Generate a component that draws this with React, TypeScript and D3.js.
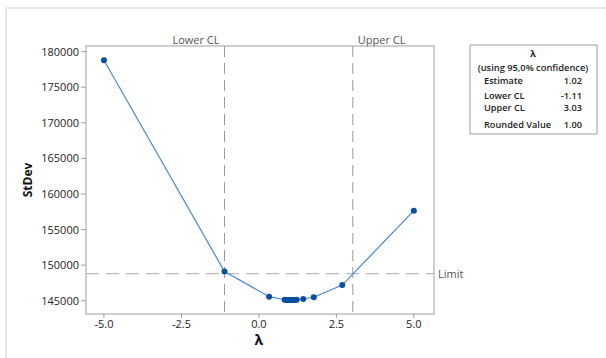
import React from "react";
import * as d3 from "d3";

const lambdas = [-5, -1.11, 0.33, 0.83, 0.88, 0.93, 0.98, 1.02, 1.07, 1.12, 1.17, 1.22, 1.43, 1.77, 2.69, 5];
const stdevs = [178800, 149100, 145560, 145130, 145115, 145105, 145100, 145100, 145100, 145105, 145115, 145130, 145240, 145480, 147200, 157650];
const yTicks = [145000, 150000, 155000, 160000, 165000, 170000, 175000, 180000];
const xTicks = [-5, -2.5, 0, 2.5, 5];
const lowerCL = -1.11;
const upperCL = 3.03;
const limitValue = 148800;
const tableRows = [
  { label: "Estimate", value: "1.02" },
  { label: "Lower CL", value: "-1.11" },
  { label: "Upper CL", value: "3.03" },
  { label: "Rounded Value", value: "1.00" },
];

const W = 606, H = 358;
const L = 86, R = 434, T = 46, B = 314;
const font = "'Open Sans', 'Noto Sans', sans-serif";

export default function App() {
  const x = d3.scaleLinear().domain([-5.58, 5.65]).range([L, R]);
  const y = d3.scaleLinear().domain([143130, 180800]).range([B, T]);
  const pts = lambdas.map((l, i) => [l, stdevs[i]] as [number, number]);
  const line = d3.line<[number, number]>().x(d => x(d[0])).y(d => y(d[1]));
  const rowY = [84, 99, 110.5, 128];
  return (
    <svg width={W} height={H} style={{ position: "absolute", left: 0, top: 0, background: "#fff" }} fontFamily={font}>
      <line x1={6} y1={8} x2={W} y2={8} stroke="#cfcfcf" />
      <line x1={6} y1={8} x2={6} y2={H} stroke="#cfcfcf" />
      {[lowerCL, upperCL].map((v, i) => (
        <line key={i} x1={x(v)} x2={x(v)} y1={T} y2={B} stroke="#9a9a9a" strokeWidth={1} strokeDasharray="11,6" />
      ))}
      <line x1={L} x2={R} y1={y(limitValue)} y2={y(limitValue)} stroke="#ababab" strokeWidth={1} strokeDasharray="13,7" />
      <text x={x(lowerCL) - 5} y={44} textAnchor="end" fontSize={11} fill="#555">Lower CL</text>
      <text x={x(upperCL) + 5} y={44} textAnchor="start" fontSize={11} fill="#555">Upper CL</text>
      <text x={R + 4} y={y(limitValue) + 4} fontSize={11} fill="#555">Limit</text>
      <rect x={L} y={T} width={R - L} height={B - T} fill="none" stroke="#a0a0a0" strokeWidth={1} />
      {yTicks.map(t => (
        <g key={t}>
          <line x1={L - 5} x2={L} y1={y(t)} y2={y(t)} stroke="#a0a0a0" />
          <text x={L - 7} y={y(t) + 4} textAnchor="end" fontSize={11} fill="#222">{t}</text>
        </g>
      ))}
      {xTicks.map(t => (
        <g key={t}>
          <line x1={x(t)} x2={x(t)} y1={B} y2={B + 4} stroke="#a0a0a0" />
          <text x={x(t)} y={B + 14} textAnchor="middle" fontSize={11} fill="#222">{t.toFixed(1)}</text>
        </g>
      ))}
      <text transform={`translate(32,180) rotate(-90)`} textAnchor="middle" fontSize={12} fontWeight="bold" fill="#111">StDev</text>
      <text x={x(0)} y={345} textAnchor="middle" fontSize={14} fontWeight="bold" fill="#111">λ</text>
      <path d={line(pts) || ""} fill="none" stroke="#4a86d4" strokeWidth={1.2} />
      {pts.map((p, i) => (
        <circle key={i} cx={x(p[0])} cy={y(p[1])} r={3} fill="#0a4fa3" />
      ))}
      <rect x={470} y={45} width={127} height={89} fill="#fff" stroke="#a0a0a0" />
      <text x={533} y={57} textAnchor="middle" fontSize={9} fontWeight="bold" fill="#222">λ</text>
      <text x={533} y={70.5} textAnchor="middle" fontSize={9.3} fontWeight={600} fill="#222">(using 95,0% confidence)</text>
      {tableRows.map((r, i) => (
        <g key={r.label}>
          <text x={484} y={rowY[i]} fontSize={9.2} fontWeight={600} fill="#222">{r.label}</text>
          <text x={582} y={rowY[i]} textAnchor="end" fontSize={9.2} fontWeight={600} fill="#222">{r.value}</text>
        </g>
      ))}
    </svg>
  );
}
